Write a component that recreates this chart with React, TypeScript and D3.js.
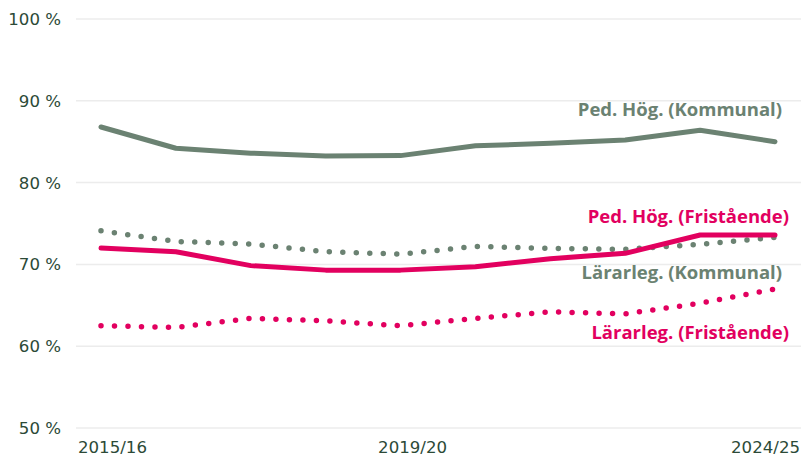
import React from "react";
import * as d3 from "d3";

const years = ["2015/16","2016/17","2017/18","2018/19","2019/20","2020/21","2021/22","2022/23","2023/24","2024/25"];
const pedHogKommunal = [86.8, 84.2, 83.6, 83.25, 83.3, 84.5, 84.8, 85.2, 86.4, 85.0];
const pedHogFristaende = [72.0, 71.55, 69.85, 69.3, 69.3, 69.7, 70.7, 71.35, 73.6, 73.6];
const lararlegKommunal = [74.1, 72.8, 72.5, 71.55, 71.25, 72.2, 71.95, 71.85, 72.45, 73.3];
const lararlegFristaende = [62.5, 62.3, 63.4, 63.1, 62.5, 63.4, 64.2, 63.95, 65.25, 67.0];
const yTicks = [50, 60, 70, 80, 90, 100];
const xLabelIdx = [0, 4, 9];

const GRAY = "#6b8272";
const PINK = "#e2005f";
const TEXT = "#2c4a37";
const TICK_FONT = "'DejaVu Sans', sans-serif";
const LABEL_FONT = "'Open Sans', sans-serif";

export default function App() {
  const W = 803, H = 457;
  const gridL = 76, gridR = 801;
  const x = d3.scalePoint<number>().domain(d3.range(years.length)).range([101, 775]);
  const y = d3.scaleLinear().domain([50, 100]).range([428, 19]);
  const line = d3.line<number>().x((_, i) => x(i)!).y(d => y(d));

  const series = [
    { vals: pedHogKommunal, color: GRAY, dotted: false, label: "Ped. Hög. (Kommunal)", lx: 782, ly: 115.5 },
    { vals: lararlegKommunal, color: GRAY, dotted: true, label: "Lärarleg. (Kommunal)", lx: 782, ly: 279 },
    { vals: lararlegFristaende, color: PINK, dotted: true, label: "Lärarleg. (Fristående)", lx: 789, ly: 339 },
    { vals: pedHogFristaende, color: PINK, dotted: false, label: "Ped. Hög. (Fristående)", lx: 789, ly: 222.5 },
  ];

  return (
    <svg width={W} height={H} style={{ position: "absolute", left: 0, top: 0, background: "#fff" }}>
      {yTicks.map(t => (
        <g key={t}>
          <line x1={gridL} x2={gridR} y1={y(t)} y2={y(t)} stroke="#ececec" strokeWidth={1.5} />
          <text x={61} y={y(t) + 6} textAnchor="end" fontFamily={TICK_FONT} fontSize={16.6} fill={TEXT}>{`${t} %`}</text>
        </g>
      ))}
      {xLabelIdx.map((i, k) => {
        const anchor = k === 0 ? "start" : k === xLabelIdx.length - 1 ? "end" : "middle";
        const lx = k === 0 ? gridL + 2 : k === xLabelIdx.length - 1 ? gridR - 1 : x(i)! + 12;
        return (
          <text key={i} x={lx} y={453} textAnchor={anchor} fontFamily={TICK_FONT} fontSize={16.6} fill={TEXT}>{years[i]}</text>
        );
      })}
      {series.map(s => (
        <path key={s.label} d={line(s.vals)!} fill="none" stroke={s.color}
          strokeWidth={s.dotted ? 5.5 : 5} strokeLinecap="round" strokeLinejoin="round"
          strokeDasharray={s.dotted ? "0 13.5" : undefined} />
      ))}
      {series.map(s => (
        <text key={s.label + "t"} x={s.lx} y={s.ly} textAnchor="end" fontFamily={LABEL_FONT} fontWeight={700}
          fontSize={18.5} fill={s.color}>{s.label}</text>
      ))}
    </svg>
  );
}
